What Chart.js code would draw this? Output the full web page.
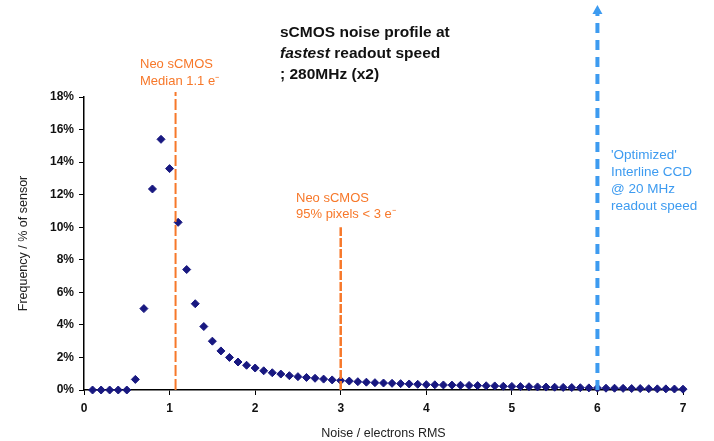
<!DOCTYPE html>
<html>
<head>
<meta charset="utf-8">
<script src="https://cdn.jsdelivr.net/npm/chart.js@4.4.1/dist/chart.umd.min.js"></script>
<style>
  html, body { margin: 0; padding: 0; background: #fff; }
  #wrap { width: 714px; height: 441px; }
</style>
</head>
<body>
<div id="wrap"><canvas id="noiseChart" width="714" height="441"></canvas></div>
<script>
// noise in electrons RMS, 0.1 steps
const noiseValues = [
  0.1, 0.2, 0.3, 0.4, 0.5, 0.6, 0.7, 0.8, 0.9, 1.0,
  1.1, 1.2, 1.3, 1.4, 1.5, 1.6, 1.7, 1.8, 1.9, 2.0,
  2.1, 2.2, 2.3, 2.4, 2.5, 2.6, 2.7, 2.8, 2.9, 3.0,
  3.1, 3.2, 3.3, 3.4, 3.5, 3.6, 3.7, 3.8, 3.9, 4.0,
  4.1, 4.2, 4.3, 4.4, 4.5, 4.6, 4.7, 4.8, 4.9, 5.0,
  5.1, 5.2, 5.3, 5.4, 5.5, 5.6, 5.7, 5.8, 5.9, 6.0,
  6.1, 6.2, 6.3, 6.4, 6.5, 6.6, 6.7, 6.8, 6.9, 7.0
];
// frequency, % of sensor
const frequency = [
  0, 0, 0, 0, 0, 0.65, 5.0, 12.35, 15.4, 13.6,
  10.3, 7.4, 5.3, 3.9, 3.0, 2.4, 2.0, 1.72, 1.52, 1.35,
  1.18, 1.06, 0.98, 0.88, 0.82, 0.77, 0.72, 0.67, 0.62, 0.58,
  0.55, 0.51, 0.48, 0.45, 0.43, 0.41, 0.39, 0.37, 0.35, 0.33,
  0.32, 0.31, 0.3, 0.29, 0.28, 0.27, 0.26, 0.25, 0.23, 0.22,
  0.21, 0.2, 0.19, 0.18, 0.17, 0.16, 0.15, 0.14, 0.13, 0.12,
  0.11, 0.11, 0.1, 0.09, 0.09, 0.08, 0.07, 0.07, 0.06, 0.05
];
const xTicks = [0, 1, 2, 3, 4, 5, 6, 7];
const yTicks = [0, 2, 4, 6, 8, 10, 12, 14, 16, 18];

// marker lines: x value, top of line (in % units)
const medianLine = { x: 1.07, top: 18.3 };
const p95Line = { x: 3.0, top: 10.0 };
const ccdLine = { x: 6.0, top: 23.4 };

const titleLines = ['sCMOS noise profile at', 'readout speed', '; 280MHz (x2)'];
const medianLabel = ['Neo sCMOS', 'Median 1.1 e\u207B'];
const p95Label = ['Neo sCMOS', '95% pixels < 3 e\u207B'];
const ccdLabel = ["'Optimized'", 'Interline CCD', '@ 20 MHz', 'readout speed'];

const ORANGE = '#f7782a';
const BLUE = '#3d9bf0';
const FONT = '"Liberation Sans", Arial, sans-serif';

const points = noiseValues.map((x, i) => ({ x: x, y: frequency[i] }));

const overlay = {
  id: 'overlay',
  afterDatasetsDraw(chart) {
    const ctx = chart.ctx;
    const xs = chart.scales.x, ys = chart.scales.y;
    const base = ys.getPixelForValue(0);

    function vline(line, color, width, dash) {
      const px = xs.getPixelForValue(line.x);
      ctx.save();
      ctx.strokeStyle = color;
      ctx.lineWidth = width;
      ctx.setLineDash(dash);
      ctx.beginPath();
      ctx.moveTo(px, base);
      ctx.lineTo(px, ys.getPixelForValue(line.top));
      ctx.stroke();
      ctx.restore();
      return px;
    }

    vline(medianLine, ORANGE, 2, [11, 3]);
    vline(p95Line, ORANGE, 2.5, [9, 2]);
    const cx = vline(ccdLine, BLUE, 4, [10, 7]);

    // arrow head on CCD line
    const tip = ys.getPixelForValue(ccdLine.top) - 4;
    ctx.save();
    ctx.fillStyle = BLUE;
    ctx.beginPath();
    ctx.moveTo(cx, tip);
    ctx.lineTo(cx - 5, tip + 9);
    ctx.lineTo(cx + 5, tip + 9);
    ctx.closePath();
    ctx.fill();
    ctx.restore();

    ctx.save();
    ctx.textBaseline = 'middle';
    ctx.textAlign = 'left';

    // title
    ctx.fillStyle = '#111';
    ctx.font = 'bold 15.5px ' + FONT;
    ctx.fillText(titleLines[0], 280, 33);
    ctx.font = 'italic bold 15.5px ' + FONT;
    ctx.fillText('fastest', 280, 54);
    const w = ctx.measureText('fastest ').width;
    ctx.font = 'bold 15.5px ' + FONT;
    ctx.fillText(titleLines[1], 280 + w, 54);
    ctx.fillText(titleLines[2], 280, 75);

    // orange labels
    ctx.fillStyle = ORANGE;
    ctx.font = '13px ' + FONT;
    medianLabel.forEach((t, i) => ctx.fillText(t, 140, 64 + i * 17));
    p95Label.forEach((t, i) => ctx.fillText(t, 296, 198 + i * 16));

    // blue label
    ctx.fillStyle = BLUE;
    ctx.font = '13.5px ' + FONT;
    ccdLabel.forEach((t, i) => ctx.fillText(t, 611, 155 + i * 17));
    ctx.restore();
  }
};

new Chart(document.getElementById('noiseChart'), {
  type: 'scatter',
  data: {
    datasets: [{
      label: 'Frequency',
      data: points,
      backgroundColor: '#181880',
      borderColor: '#181880',
      pointStyle: 'rectRot',
      pointRadius: 4,
      pointHoverRadius: 4
    }]
  },
  options: {
    responsive: false,
    animation: false,
    events: [],
    layout: { padding: { top: 97, right: 31, left: 0, bottom: 0 } },
    plugins: { legend: { display: false }, tooltip: { enabled: false } },
    clip: false,
    scales: {
      x: {
        type: 'linear',
        min: 0,
        max: 7,
        afterFit: s => { s.height = 51; },
        afterBuildTicks: s => { s.ticks = xTicks.map(v => ({ value: v })); },
        grid: { drawOnChartArea: false, drawTicks: true, tickLength: 5, color: '#000' },
        border: { color: '#000', width: 1.5 },
        ticks: { color: '#111', font: { family: FONT, size: 12, weight: 'bold' }, padding: 6 },
        title: {
          display: true,
          text: 'Noise / electrons RMS',
          color: '#222',
          font: { family: FONT, size: 12.5 },
          padding: { top: 4, bottom: 0 }
        }
      },
      y: {
        type: 'linear',
        min: 0,
        max: 18,
        afterFit: s => { s.width = 84; },
        afterBuildTicks: s => { s.ticks = yTicks.map(v => ({ value: v })); },
        grid: { drawOnChartArea: false, drawTicks: true, tickLength: 5, color: '#000' },
        border: { color: '#000', width: 1.5 },
        ticks: {
          color: '#111',
          font: { family: FONT, size: 12, weight: 'bold' },
          padding: 5,
          callback: v => v + '%'
        },
        title: {
          display: true,
          text: 'Frequency / % of sensor',
          color: '#222',
          font: { family: FONT, size: 12.5 },
          padding: { top: 16, bottom: 4 }
        }
      }
    }
  },
  plugins: [overlay]
});
</script>
</body>
</html>
